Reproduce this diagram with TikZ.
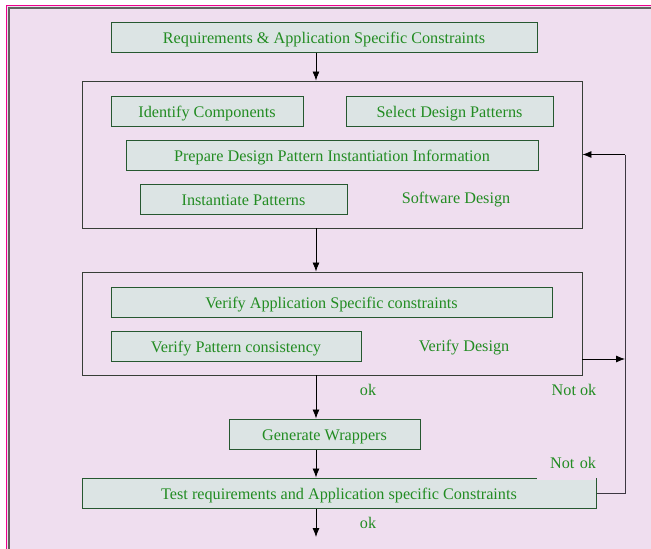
\documentclass[tikz,border=0pt]{standalone}
\usepackage{fontspec}
\setmainfont{Liberation Serif}
\usetikzlibrary{arrows.meta}
\definecolor{pagebg}{RGB}{239,222,239}
\definecolor{boxbg}{RGB}{220,228,228}
\definecolor{boxline}{RGB}{38,88,48}
\definecolor{txtgreen}{RGB}{34,140,34}
\definecolor{frameline}{RGB}{55,62,55}
\definecolor{loopgray}{RGB}{60,55,65}
\tikzset{
  stepbox/.style={draw=boxline,fill=boxbg,line width=1pt,minimum height=30pt,
    inner sep=0pt,text height=15pt,text depth=2pt,text=txtgreen,font=\fontsize{16.2}{18}\selectfont},
  stageframe/.style={draw=frameline,line width=0.9pt,inner sep=0pt},
  lbl/.style={text=txtgreen,font=\fontsize{16.2}{18}\selectfont,inner sep=0pt},
  flow/.style={-{Latex[length=9pt,width=7pt]},line width=0.8pt,black},
  loopback/.style={draw=loopgray,line width=1pt}
}

\begin{document}
\begin{tikzpicture}[x=1pt,y=-1pt]
    \useasboundingbox (0,0) rectangle (651,549);
    % page
    \fill[white] (0,0) rectangle (651,549);
    \fill[pagebg] (6,5) rectangle (651,549);
    \draw[magenta,line width=1.4pt] (6.7,549) -- (6.7,5.6) -- (651,5.6);
    \draw[frameline!80,line width=1.4pt] (9,549) -- (9,8) -- (651,8);
    % stage frames
    \node[stageframe,minimum width=500pt,minimum height=147pt] (swd) at (332,154.5) {};
    \node[stageframe,minimum width=500pt,minimum height=103pt] (vfd) at (332,323.5) {};
    % steps
    \node[stepbox,minimum width=426pt] (req) at (324,37) {Requirements \& Application Specific Constraints};
    \node[stepbox,minimum width=192pt] (ident) at (207,111) {Identify Components};
    \node[stepbox,minimum width=207pt] (selpat) at (449.5,111) {Select Design Patterns};
    \node[stepbox,minimum width=412pt] (prep) at (332,155) {Prepare Design Pattern Instantiation Information};
    \node[stepbox,minimum width=207pt] (inst) at (243.5,199) {Instantiate Patterns};
    \node[lbl] (swlbl) at (456,200) {Software Design};
    \node[stepbox,minimum width=441pt] (vapp) at (331.5,302) {Verify Application Specific constraints};
    \node[stepbox,minimum width=250pt] (vpat) at (236,346) {Verify Pattern consistency};
    \node[lbl] (vdlbl) at (464,348) {Verify Design};
    \node[stepbox,minimum width=191pt] (gen) at (324.5,434) {Generate Wrappers};
    \node[stepbox,minimum width=514pt] (test) at (339,493) {Test requirements and Application specific Constraints};
    \node[lbl] (ok1) at (368,390) {ok};
    \node[lbl] (nok1) at (574,390) {Not ok};
    \node[lbl,fill=pagebg,text width=59pt,align=right,minimum height=33pt] (nok2) at (566.5,463) {Not ok};
    \node[lbl] (ok2) at (368,523) {ok};
    % spine and loop
    \coordinate (spine) at (316,0);
    \coordinate (fb) at (625,359);
    \coordinate (done) at (316,537);
    \draw[flow] (req.south -| spine) -- (swd.north -| spine);
    \draw[flow] (swd.south -| spine) -- (vfd.north -| spine);
    \draw[flow] (vfd.south -| spine) -- (gen.north -| spine);
    \draw[flow] (gen.south -| spine) -- (test.north -| spine);
    \draw[flow] (test.south -| spine) -- (done);
    \draw[loopback] (test.east) -- (test.east -| fb) -- (fb |- swd.east);
    \draw[flow] (fb |- swd.east) -- (swd.east);
    \draw[flow] (vfd.east |- fb) -- (fb);
\end{tikzpicture}
\end{document}
